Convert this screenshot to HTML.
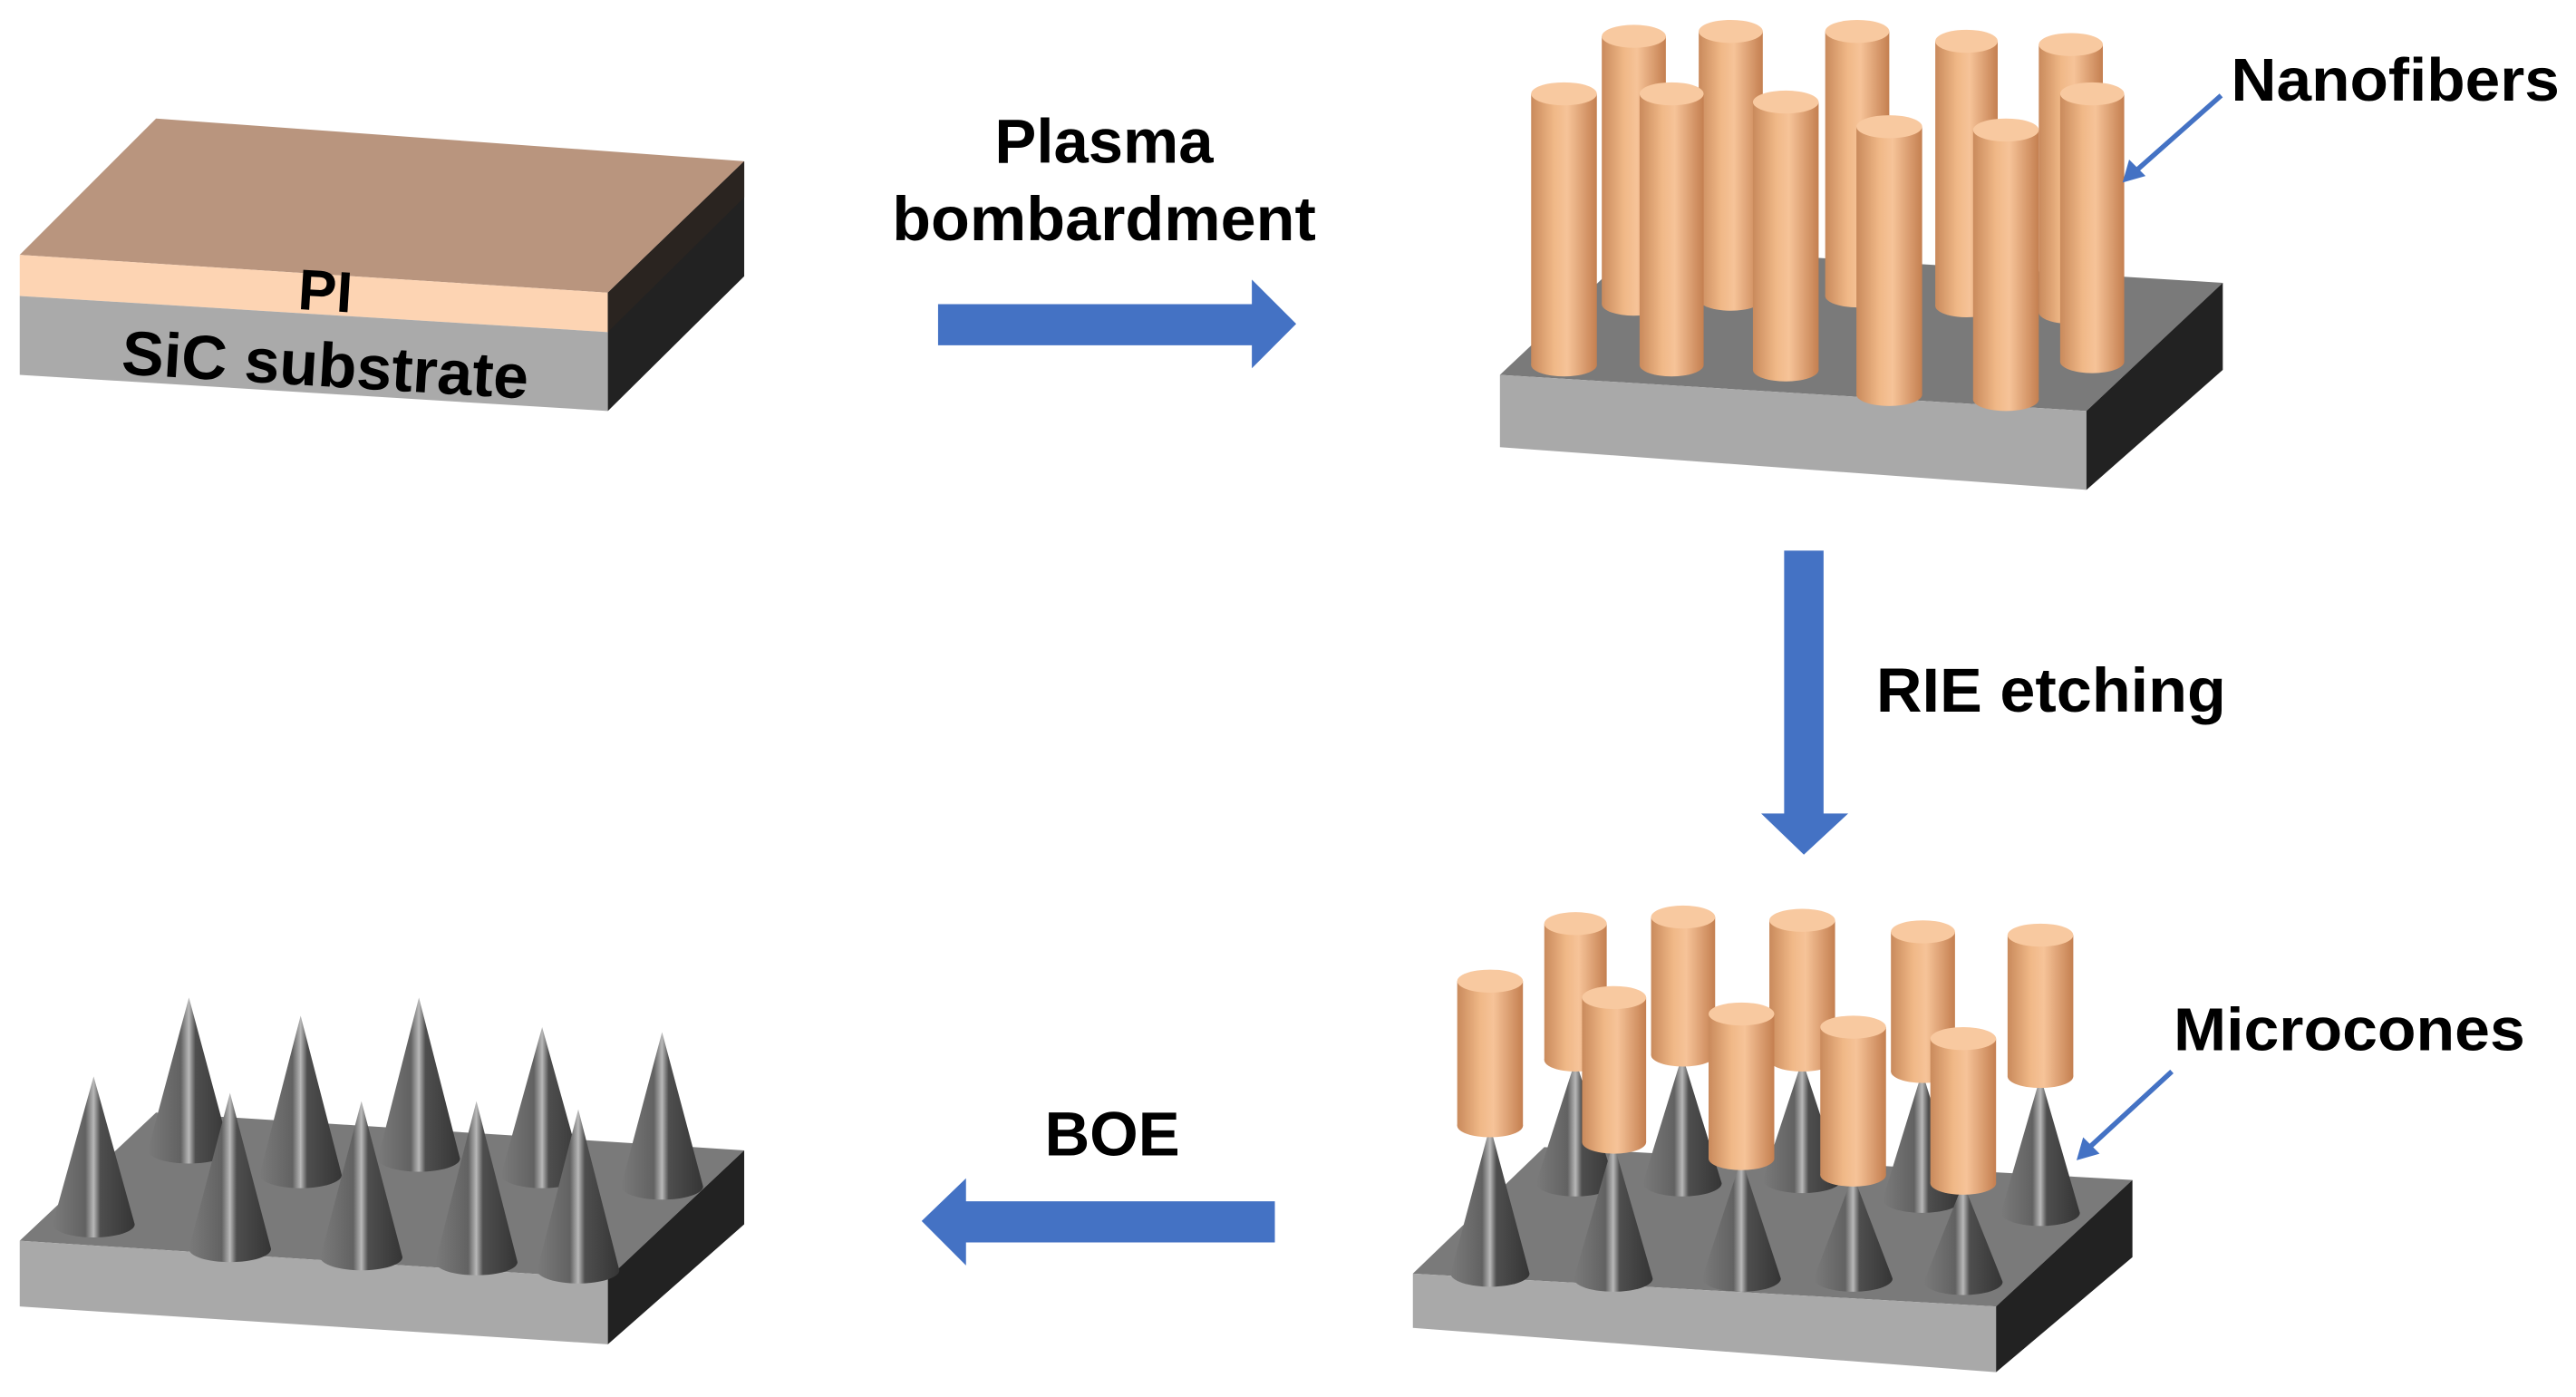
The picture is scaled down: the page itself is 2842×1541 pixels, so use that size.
<!DOCTYPE html>
<html><head><meta charset="utf-8"><style>html,body{margin:0;padding:0;background:#fff}svg{display:block}</style></head>
<body>
<svg width="2842" height="1541" viewBox="0 0 1568 850" xmlns="http://www.w3.org/2000/svg" font-family="Liberation Sans, Arial, sans-serif" font-weight="bold">
<defs>
<linearGradient id="cyl" x1="0" x2="1" y1="0" y2="0">
<stop offset="0" stop-color="#c98a5c"/><stop offset="0.35" stop-color="#f0b887"/><stop offset="0.55" stop-color="#f6c398"/><stop offset="1" stop-color="#c47f50"/>
</linearGradient>
<linearGradient id="cone" x1="0" x2="1" y1="0" y2="0">
<stop offset="0" stop-color="#7a7a7a"/><stop offset="0.4" stop-color="#626262"/><stop offset="0.5" stop-color="#b8b8b8"/><stop offset="0.58" stop-color="#4e4e4e"/><stop offset="1" stop-color="#353535"/>
</linearGradient>
</defs>

<!-- Block 1 -->
<polygon points="12,155 95,72 453,98 370,178" fill="#b9957e"/>
<polygon points="12,155 370,178 370,202 12,180" fill="#fdd4b3"/>
<polygon points="12,180 370,202 370,250 12,228" fill="#aaaaaa"/>
<polygon points="370,178 453,98 453,168 370,250" fill="#222"/>
<polygon points="370,178 453,98 453,120 370,202" fill="#2a2420"/>
<text x="198" y="189" font-size="35" text-anchor="middle" transform="rotate(3.5 198 178)">PI</text>
<text x="198" y="235" font-size="38" text-anchor="middle" textLength="248" lengthAdjust="spacingAndGlyphs" transform="rotate(3.5 198 222)">SiC substrate</text>

<!-- Arrow 1 -->
<text x="672" y="99" font-size="38" text-anchor="middle">Plasma</text>
<text x="672" y="146" font-size="38" text-anchor="middle" textLength="258" lengthAdjust="spacingAndGlyphs">bombardment</text>
<polygon points="571,185 762,185 762,170 789,197 762,224 762,210 571,210" fill="#4472c4"/>

<!-- Block 2 -->
<polygon points="913,228 996,150 1353,172 1270,250" fill="#7a7a7a"/>
<polygon points="913,228 1270,250 1270,298 913,272" fill="#a9a9a9"/>
<polygon points="1270,250 1353,172 1353,225 1270,298" fill="#222"/>
<rect x="975" y="22" width="39" height="163" fill="url(#cyl)"/><ellipse cx="994.5" cy="185" rx="19.5" ry="7" fill="url(#cyl)"/><ellipse cx="994.5" cy="22" rx="19.5" ry="7" fill="#f8c9a0"/>
<rect x="1034" y="19" width="39" height="163" fill="url(#cyl)"/><ellipse cx="1053.5" cy="182" rx="19.5" ry="7" fill="url(#cyl)"/><ellipse cx="1053.5" cy="19" rx="19.5" ry="7" fill="#f8c9a0"/>
<rect x="1111" y="19" width="39" height="161" fill="url(#cyl)"/><ellipse cx="1130.5" cy="180" rx="19.5" ry="7" fill="url(#cyl)"/><ellipse cx="1130.5" cy="19" rx="19.5" ry="7" fill="#f8c9a0"/>
<rect x="1178" y="25" width="38" height="161" fill="url(#cyl)"/><ellipse cx="1197" cy="186" rx="19" ry="7" fill="url(#cyl)"/><ellipse cx="1197" cy="25" rx="19" ry="7" fill="#f8c9a0"/>
<rect x="1241" y="27" width="39" height="163" fill="url(#cyl)"/><ellipse cx="1260.5" cy="190" rx="19.5" ry="7" fill="url(#cyl)"/><ellipse cx="1260.5" cy="27" rx="19.5" ry="7" fill="#f8c9a0"/>
<rect x="932" y="57" width="40" height="165" fill="url(#cyl)"/><ellipse cx="952" cy="222" rx="20" ry="7" fill="url(#cyl)"/><ellipse cx="952" cy="57" rx="20" ry="7" fill="#f8c9a0"/>
<rect x="998" y="57" width="39" height="165" fill="url(#cyl)"/><ellipse cx="1017.5" cy="222" rx="19.5" ry="7" fill="url(#cyl)"/><ellipse cx="1017.5" cy="57" rx="19.5" ry="7" fill="#f8c9a0"/>
<rect x="1067" y="62" width="40" height="163" fill="url(#cyl)"/><ellipse cx="1087" cy="225" rx="20" ry="7" fill="url(#cyl)"/><ellipse cx="1087" cy="62" rx="20" ry="7" fill="#f8c9a0"/>
<rect x="1130" y="77" width="40" height="163" fill="url(#cyl)"/><ellipse cx="1150" cy="240" rx="20" ry="7" fill="url(#cyl)"/><ellipse cx="1150" cy="77" rx="20" ry="7" fill="#f8c9a0"/>
<rect x="1201" y="79" width="40" height="164" fill="url(#cyl)"/><ellipse cx="1221" cy="243" rx="20" ry="7" fill="url(#cyl)"/><ellipse cx="1221" cy="79" rx="20" ry="7" fill="#f8c9a0"/>
<rect x="1254" y="57" width="39" height="163" fill="url(#cyl)"/><ellipse cx="1273.5" cy="220" rx="19.5" ry="7" fill="url(#cyl)"/><ellipse cx="1273.5" cy="57" rx="19.5" ry="7" fill="#f8c9a0"/>
<text x="1358" y="61" font-size="37" textLength="200" lengthAdjust="spacingAndGlyphs">Nanofibers</text>
<line x1="1352" y1="58" x2="1300" y2="104" stroke="#4472c4" stroke-width="3"/>
<polygon points="1292,111 1296,97 1306,107" fill="#4472c4"/>

<!-- Arrow down -->
<polygon points="1086,335 1110,335 1110,495 1125,495 1098,520 1072,495 1086,495" fill="#4472c4"/>
<text x="1142" y="433" font-size="38" textLength="213" lengthAdjust="spacingAndGlyphs">RIE etching</text>

<!-- Block 3 -->
<polygon points="860,775 940,698 1298,718 1215,795" fill="#7a7a7a"/>
<polygon points="860,775 1215,795 1215,835 860,808" fill="#a9a9a9"/>
<polygon points="1215,795 1298,718 1298,765 1215,835" fill="#222"/>
<path d="M959,645 L935,720 A24,8 0 0 0 983,720 Z" fill="url(#cone)"/>
<path d="M1024,642 L1000,720 A24,8 0 0 0 1048,720 Z" fill="url(#cone)"/>
<path d="M1097,645 L1073,718 A24,8 0 0 0 1121,718 Z" fill="url(#cone)"/>
<path d="M1170,652 L1146,730 A24,8 0 0 0 1194,730 Z" fill="url(#cone)"/>
<path d="M1242,655 L1218,738 A24,8 0 0 0 1266,738 Z" fill="url(#cone)"/>
<rect x="940" y="562" width="38" height="83" fill="url(#cyl)"/><ellipse cx="959" cy="645" rx="19" ry="7" fill="url(#cyl)"/><ellipse cx="959" cy="562" rx="19" ry="7" fill="#f8c9a0"/>
<rect x="1005" y="558" width="39" height="84" fill="url(#cyl)"/><ellipse cx="1024.5" cy="642" rx="19.5" ry="7" fill="url(#cyl)"/><ellipse cx="1024.5" cy="558" rx="19.5" ry="7" fill="#f8c9a0"/>
<rect x="1077" y="560" width="40" height="85" fill="url(#cyl)"/><ellipse cx="1097" cy="645" rx="20" ry="7" fill="url(#cyl)"/><ellipse cx="1097" cy="560" rx="20" ry="7" fill="#f8c9a0"/>
<rect x="1151" y="567" width="39" height="85" fill="url(#cyl)"/><ellipse cx="1170.5" cy="652" rx="19.5" ry="7" fill="url(#cyl)"/><ellipse cx="1170.5" cy="567" rx="19.5" ry="7" fill="#f8c9a0"/>
<rect x="1222" y="569" width="40" height="86" fill="url(#cyl)"/><ellipse cx="1242" cy="655" rx="20" ry="7" fill="url(#cyl)"/><ellipse cx="1242" cy="569" rx="20" ry="7" fill="#f8c9a0"/>
<path d="M907,685 L883,775 A24,8 0 0 0 931,775 Z" fill="url(#cone)"/>
<path d="M982,695 L958,778 A24,8 0 0 0 1006,778 Z" fill="url(#cone)"/>
<path d="M1060,705 L1036,778 A24,8 0 0 0 1084,778 Z" fill="url(#cone)"/>
<path d="M1128,715 L1104,778 A24,8 0 0 0 1152,778 Z" fill="url(#cone)"/>
<path d="M1195,720 L1171,780 A24,8 0 0 0 1219,780 Z" fill="url(#cone)"/>
<rect x="887" y="597" width="40" height="88" fill="url(#cyl)"/><ellipse cx="907" cy="685" rx="20" ry="7" fill="url(#cyl)"/><ellipse cx="907" cy="597" rx="20" ry="7" fill="#f8c9a0"/>
<rect x="963" y="607" width="39" height="88" fill="url(#cyl)"/><ellipse cx="982.5" cy="695" rx="19.5" ry="7" fill="url(#cyl)"/><ellipse cx="982.5" cy="607" rx="19.5" ry="7" fill="#f8c9a0"/>
<rect x="1040" y="617" width="40" height="88" fill="url(#cyl)"/><ellipse cx="1060" cy="705" rx="20" ry="7" fill="url(#cyl)"/><ellipse cx="1060" cy="617" rx="20" ry="7" fill="#f8c9a0"/>
<rect x="1108" y="625" width="40" height="90" fill="url(#cyl)"/><ellipse cx="1128" cy="715" rx="20" ry="7" fill="url(#cyl)"/><ellipse cx="1128" cy="625" rx="20" ry="7" fill="#f8c9a0"/>
<rect x="1175" y="632" width="40" height="88" fill="url(#cyl)"/><ellipse cx="1195" cy="720" rx="20" ry="7" fill="url(#cyl)"/><ellipse cx="1195" cy="632" rx="20" ry="7" fill="#f8c9a0"/>
<text x="1323" y="639" font-size="37" textLength="214" lengthAdjust="spacingAndGlyphs">Microcones</text>
<line x1="1322" y1="652" x2="1272" y2="698" stroke="#4472c4" stroke-width="3"/>
<polygon points="1264,706 1268,692 1278,702" fill="#4472c4"/>

<!-- Arrow left -->
<text x="677" y="703" font-size="38" text-anchor="middle">BOE</text>
<polygon points="776,731 588,731 588,717 561,743 588,770 588,756 776,756" fill="#4472c4"/>

<!-- Block 4 -->
<polygon points="12,755 95,677 453,700 370,778" fill="#7a7a7a"/>
<polygon points="12,755 370,778 370,818 12,795" fill="#a9a9a9"/>
<polygon points="370,778 453,700 453,745 370,818" fill="#222"/>
<path d="M115,607 L90,700 A25,8 0 0 0 140,700 Z" fill="url(#cone)"/>
<path d="M183,618 L158,715 A25,8 0 0 0 208,715 Z" fill="url(#cone)"/>
<path d="M255,607 L230,705 A25,8 0 0 0 280,705 Z" fill="url(#cone)"/>
<path d="M330,625 L305,715 A25,8 0 0 0 355,715 Z" fill="url(#cone)"/>
<path d="M403,628 L378,722 A25,8 0 0 0 428,722 Z" fill="url(#cone)"/>
<path d="M57,655 L32,745 A25,8 0 0 0 82,745 Z" fill="url(#cone)"/>
<path d="M140,665 L115,760 A25,8 0 0 0 165,760 Z" fill="url(#cone)"/>
<path d="M220,670 L195,765 A25,8 0 0 0 245,765 Z" fill="url(#cone)"/>
<path d="M290,670 L265,768 A25,8 0 0 0 315,768 Z" fill="url(#cone)"/>
<path d="M352,675 L327,773 A25,8 0 0 0 377,773 Z" fill="url(#cone)"/>
</svg>
</body></html>
